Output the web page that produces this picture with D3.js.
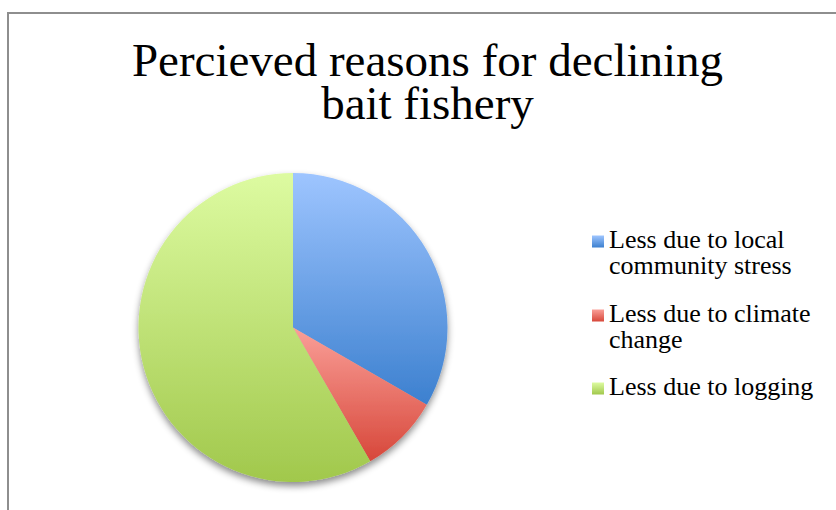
<!DOCTYPE html>
<html>
<head>
<script src="https://cdn.jsdelivr.net/npm/d3@7"></script>
</head>
<body style="margin:0">
<script>
// Survey responses: perceived reasons for the declining bait fishery
const categories = [
  "Less due to local community stress",
  "Less due to climate change",
  "Less due to logging"
];
const legendLines = [
  ["Less due to local", "community stress"],
  ["Less due to climate", "change"],
  ["Less due to logging"]
];
const responses = [4, 1, 7];
const titleLines = ["Percieved reasons for declining", "bait fishery"];

// top / bottom colour stops of each slice's vertical gradient
const gradTop = ["#9ec5ff", "#fa9f98", "#ddfba1"];
const gradBottom = ["#3c80cf", "#d7473a", "#a1c84c"];

const width = 836, height = 510;
const serif = '"Liberation Serif", "Times New Roman", Tinos, serif';

const svg = d3.select("body").append("svg")
  .attr("width", width).attr("height", height)
  .style("display", "block");

const defs = svg.append("defs");
categories.forEach((c, i) => {
  const g = defs.append("linearGradient")
    .attr("id", "slice-grad-" + i)
    .attr("x1", 0).attr("y1", 0).attr("x2", 0).attr("y2", 1);
  g.append("stop").attr("offset", "0%").attr("stop-color", gradTop[i]);
  g.append("stop").attr("offset", "100%").attr("stop-color", gradBottom[i]);
});
const shadow = defs.append("filter").attr("id", "pie-shadow")
  .attr("x", "-20%").attr("y", "-20%").attr("width", "140%").attr("height", "140%");
shadow.append("feDropShadow")
  .attr("dx", 0).attr("dy", 4).attr("stdDeviation", 3.5)
  .attr("flood-color", "#000").attr("flood-opacity", 0.45);

// chart frame
svg.append("rect")
  .attr("x", 8).attr("y", 13)
  .attr("width", width + 20).attr("height", height + 20)
  .attr("fill", "none").attr("stroke", "#8e8e8e").attr("stroke-width", 2);

// pie
const cx = 293, cy = 327.5, radius = 154.5;
const pie = d3.pie().sort(null).value(d => d);
const arc = d3.arc().innerRadius(0).outerRadius(radius);

svg.append("g")
  .attr("transform", `translate(${cx},${cy})`)
  .attr("filter", "url(#pie-shadow)")
  .selectAll("path")
  .data(pie(responses))
  .join("path")
  .attr("d", arc)
  .attr("fill", (d, i) => `url(#slice-grad-${i})`);

// title, one text per line
svg.selectAll("text.title").data(titleLines).join("text")
  .attr("class", "title")
  .attr("text-anchor", "middle")
  .attr("font-family", serif)
  .style("font-family", serif)
  .style("font-size", "47px")
  .attr("fill", "#000")
  .attr("x", 427.5)
  .attr("y", (d, i) => 76 + i * 43)
  .text(d => d);

// legend
const legendBase = [247.5, 321.5, 394.5];
legendLines.forEach((lines, i) => {
  svg.append("rect")
    .attr("x", 592).attr("y", legendBase[i] - 12)
    .attr("width", 12).attr("height", 12)
    .attr("fill", `url(#slice-grad-${i})`);
  svg.selectAll("text.legend-" + i).data(lines).join("text")
    .attr("class", "legend-" + i)
    .attr("font-family", serif)
    .style("font-family", serif)
    .style("font-size", "26px")
    .attr("fill", "#000")
    .attr("x", 609)
    .attr("y", (d, j) => legendBase[i] + j * 26.5)
    .text(d => d);
});
</script>
</body>
</html>
